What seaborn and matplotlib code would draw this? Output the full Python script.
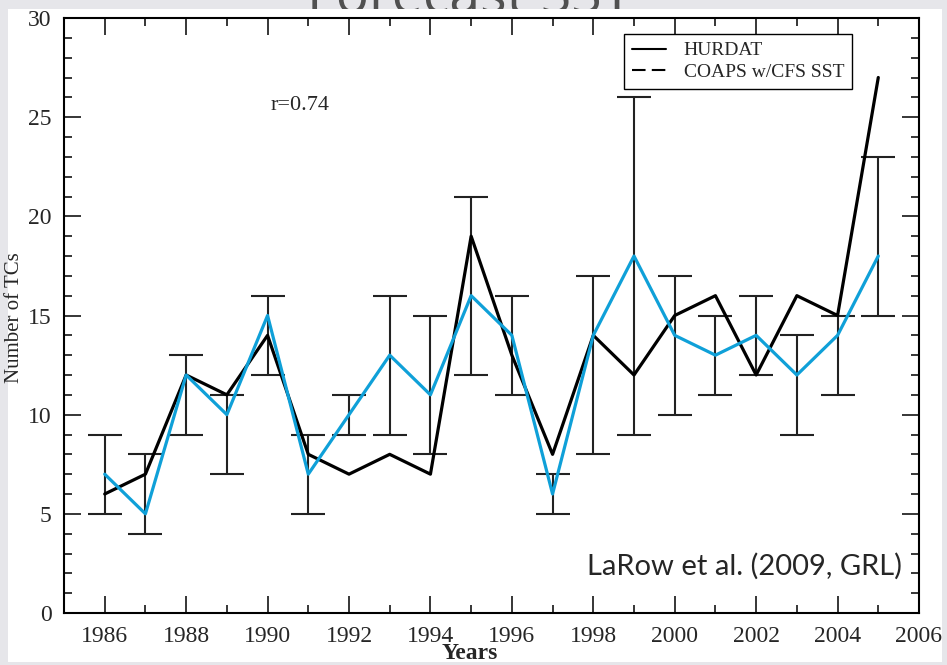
import matplotlib
matplotlib.use("Agg")
import matplotlib.pyplot as plt
import seaborn as sns
import pandas as pd
import numpy as np
from matplotlib.lines import Line2D
from matplotlib.patches import Rectangle
from matplotlib.ticker import MultipleLocator

years = list(range(1986, 2006))
hurdat = [6, 7, 12, 11, 14, 8, 7, 8, 7, 19, 13, 8, 14, 12, 15, 16, 12, 16, 15, 27]
coaps = [7, 5, 12, 10, 15, 7, 10, 13, 11, 16, 14, 6, 14, 18, 14, 13, 14, 12, 14, 18]
err_low = [5, 4, 9, 7, 12, 5, 9, 9, 8, 12, 11, 5, 8, 9, 10, 11, 12, 9, 11, 15]
err_high = [9, 8, 13, 11, 16, 9, 11, 16, 15, 21, 16, 7, 17, 26, 17, 15, 16, 14, 15, 23]

df = pd.DataFrame({"year": years, "HURDAT": hurdat, "COAPS": coaps,
                   "lo": err_low, "hi": err_high})

sns.set_style("white")
serif = ["Liberation Serif", "DejaVu Serif"]

fig = plt.figure(figsize=(9.47, 6.65), dpi=100)
fig.patch.set_facecolor("#e6e6ea")

# title partly hidden behind the white panel
fig.text(470 / 947, 1 - 13 / 665, "Forecast SST", ha="center", va="baseline",
         fontsize=40, color="#505050", family=["Open Sans", "DejaVu Sans"],
         zorder=-3)
panel = Rectangle((8 / 947, 1 - 662 / 665), (942 - 8) / 947, (662 - 9) / 665,
                  transform=fig.transFigure, facecolor="white", edgecolor="none",
                  zorder=-2)
fig.add_artist(panel)

ax = fig.add_axes([64 / 947, 1 - 613 / 665, (919 - 64) / 947, (613 - 18) / 665])
ax.set_facecolor("white")

mid = (df["lo"] + df["hi"]) / 2
half = (df["hi"] - df["lo"]) / 2
ax.errorbar(df["year"], mid, yerr=half, fmt="none", ecolor="#222222",
            elinewidth=1.5, capsize=12, capthick=1.5, zorder=2)

sns.lineplot(data=df, x="year", y="HURDAT", ax=ax, color="black", linewidth=2.3,
             zorder=3, legend=False)
sns.lineplot(data=df, x="year", y="COAPS", ax=ax, color="#0fa0d8", linewidth=2.3,
             zorder=4, legend=False)

ax.set_xlim(1985, 2006)
ax.set_ylim(0, 30)
ax.xaxis.set_major_locator(MultipleLocator(2))
ax.xaxis.set_minor_locator(MultipleLocator(1))
ax.yaxis.set_major_locator(MultipleLocator(5))
ax.yaxis.set_minor_locator(MultipleLocator(1))
ax.tick_params(which="both", direction="in", top=True, right=True,
               bottom=True, left=True, color="black", width=1.1)
ax.tick_params(which="major", length=12, labelsize=17, pad=9)
ax.tick_params(which="minor", length=6)
for lab in ax.get_xticklabels() + ax.get_yticklabels():
    lab.set_family(serif)
for sp in ax.spines.values():
    sp.set_linewidth(1.5)
    sp.set_color("black")
    sp.set_visible(True)

ax.set_xlabel("")
ax.set_ylabel("")
fig.text(15 / 947, 1 - 318 / 665, "Number of TCs", rotation=90, ha="center",
         va="center", fontsize=15, family=serif)
fig.text(470 / 947, 1 - 659 / 665, "Years", ha="center", va="baseline",
         fontsize=17, fontweight="bold", family=serif)

ax.text(1990.8, 25.6, "r=0.74", ha="center", va="center", fontsize=16,
        family=serif)
ax.text(0.980, 0.064, "LaRow et al. (2009, GRL)", transform=ax.transAxes,
        ha="right", va="baseline", fontsize=21, family=["Lato", "DejaVu Sans"])

handles = [Line2D([], [], color="black", lw=1.5, ls="-"),
           Line2D([], [], color="black", lw=1.5, ls=(0, (6.5, 3)))]
leg = ax.legend(handles, ["HURDAT", "COAPS w/CFS SST"], loc="upper right",
                bbox_to_anchor=(0.9216, 0.973), borderaxespad=0,
                prop={"family": serif, "size": 14}, handlelength=1.75,
                handletextpad=0.9, fancybox=False, framealpha=1,
                edgecolor="black", labelspacing=0.2, borderpad=0.4)
leg.get_frame().set_linewidth(1.0)

fig.savefig("out.png", dpi=100)
